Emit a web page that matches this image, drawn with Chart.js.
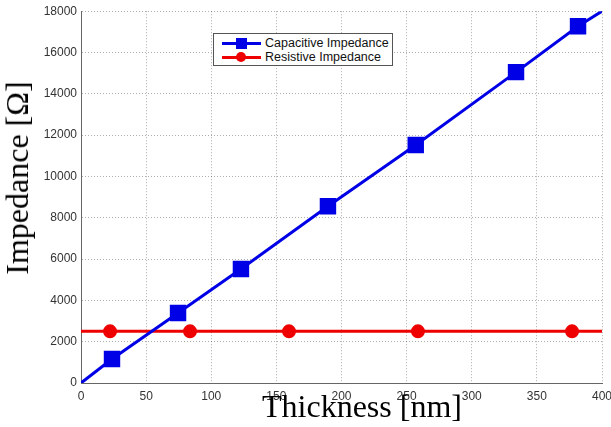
<!DOCTYPE html>
<html>
<head>
<meta charset="utf-8">
<script src="https://cdn.jsdelivr.net/npm/chart.js@4/dist/chart.umd.min.js"></script>
<style>
  html, body { margin: 0; padding: 0; background: #fff; }
  #wrap { position: relative; width: 611px; height: 427px; overflow: hidden; }
  #legend {
    position: absolute; left: 213px; top: 33px; width: 178px; height: 31px;
    border: 1px solid #555; background: #fff;
    font-family: "Liberation Sans", Arial, sans-serif; font-size: 12.5px; color: #111;
  }
  .row { position: absolute; left: 8px; height: 14px; }
  .row .ln { position: absolute; left: 0; top: 6px; width: 39px; height: 3px; }
  .row .mk { position: absolute; }
  .row .tx { position: absolute; left: 43px; top: 0; white-space: nowrap; line-height: 14px; }
  .axtitle { position: absolute; font-family: "Liberation Serif", "Times New Roman", serif; color: #000;
             font-size: 32px; line-height: 32px; white-space: nowrap; }
  #xtitle { left: 262px; top: 390px; }
  #ytitle { left: 17px; top: 178px; transform: translate(-50%, -50%) rotate(-90deg); }
</style>
</head>
<body>
<div id="wrap">
  <canvas id="c" width="611" height="427"></canvas>
  <div id="legend">
    <div class="row" style="top:2px;">
      <div class="ln" style="background:#0000e6;"></div>
      <div class="mk" style="left:14px; top:2px; width:11px; height:11px; background:#0000e6;"></div>
      <div class="tx">Capacitive Impedance</div>
    </div>
    <div class="row" style="top:16px;">
      <div class="ln" style="background:#ee0000;"></div>
      <div class="mk" style="left:14px; top:2px; width:10px; height:10px; border-radius:50%; background:#ee0000;"></div>
      <div class="tx">Resistive Impedance</div>
    </div>
  </div>
  <div id="xtitle" class="axtitle">Thickness [nm]</div>
  <div id="ytitle" class="axtitle">Impedance [Ω]</div>
</div>
<script>
// Capacitive impedance (line from origin, markers at measured thicknesses)
const capThickness = [0, 23.8, 74.5, 122.8, 189.6, 257, 334, 381.6, 400];
const capImpedance = [0, 1160, 3390, 5520, 8560, 11520, 15050, 17270, 18000];
const capMarker = [false, true, true, true, true, true, true, true, false];

// Resistive impedance (constant)
const resThickness = [0, 22.3, 83.7, 159.7, 258.7, 377, 400];
const resImpedance = [2500, 2500, 2500, 2500, 2500, 2500, 2500];
const resMarker = [false, true, true, true, true, true, false];

const xTicks = [0, 50, 100, 150, 200, 250, 300, 350, 400];
const yTicks = [0, 2000, 4000, 6000, 8000, 10000, 12000, 14000, 16000, 18000];

const toXY = (xs, ys) => xs.map((x, i) => ({ x: x, y: ys[i] }));

const gridCfg = {
  color: 'rgba(0,0,0,0.32)',
  lineWidth: 1,
  drawTicks: false
};
const borderCfg = { display: true, color: '#666', width: 1, dash: [1, 2] };

new Chart(document.getElementById('c'), {
  type: 'line',
  data: {
    datasets: [
      {
        label: 'Capacitive Impedance',
        data: toXY(capThickness, capImpedance),
        borderColor: '#0000e6',
        backgroundColor: '#0000e6',
        borderWidth: 3,
        pointStyle: 'rect',
        pointRadius: capMarker.map(m => m ? 9.5 : 0),
        pointHoverRadius: 0,
        tension: 0
      },
      {
        label: 'Resistive Impedance',
        data: toXY(resThickness, resImpedance),
        borderColor: '#ee0000',
        backgroundColor: '#ee0000',
        borderWidth: 3,
        pointStyle: 'circle',
        pointRadius: resMarker.map(m => m ? 5.5 : 0),
        pointHoverRadius: 0,
        tension: 0
      }
    ]
  },
  options: {
    responsive: false,
    animation: false,
    layout: { padding: { top: 11, right: 0, left: 0, bottom: 0 } },
    plugins: { legend: { display: false }, tooltip: { enabled: false } },
    scales: {
      x: {
        type: 'linear',
        min: 0, max: 400,
        afterBuildTicks: s => { s.ticks = xTicks.map(v => ({ value: v })); },
        ticks: {
          padding: 6,
          color: '#333',
          font: { family: 'Liberation Sans', size: 12 },
          maxRotation: 0,
          callback: v => String(v)
        },
        grid: gridCfg,
        border: borderCfg,
        title: { display: false },
        afterFit: s => { s.height = 44; s.paddingRight = 9; s.paddingLeft = 0; }
      },
      y: {
        type: 'linear',
        min: 0, max: 18000,
        afterBuildTicks: s => { s.ticks = yTicks.map(v => ({ value: v })); },
        ticks: {
          padding: 4,
          color: '#333',
          font: { family: 'Liberation Sans', size: 12 },
          callback: v => String(v)
        },
        grid: gridCfg,
        border: borderCfg,
        title: { display: false },
        afterFit: s => { s.width = 81; }
      }
    }
  }
});
</script>
</body>
</html>
